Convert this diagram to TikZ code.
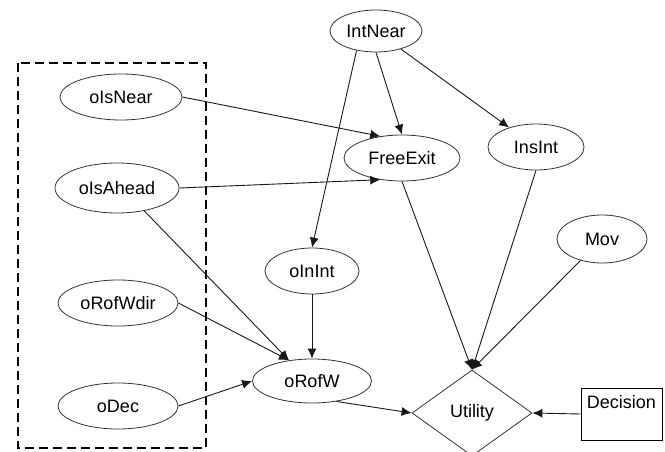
\documentclass[tikz,border=0pt]{standalone}
\usepackage{fontspec}
\setmainfont{Liberation Sans}
\usetikzlibrary{shapes.geometric,arrows.meta}
\tikzset{
  ell/.style={draw=black!80, line width=0.8pt, ellipse, inner sep=0pt, font=\fontsize{18}{20}\selectfont},
  dia/.style={draw=black!80, line width=0.8pt, diamond, inner sep=0pt, font=\fontsize{18}{20}\selectfont},
  box/.style={draw=black, line width=0.9pt, rectangle, font=\fontsize{18}{20}\selectfont},
  edge/.style={draw=black!90, line width=0.9pt, -{Latex[length=10pt,width=9pt]}},
  grp/.style={draw=black, line width=2.4pt, dash pattern=on 9pt off 5pt}
}
\begin{document}
\begin{tikzpicture}[x=1pt,y=-1pt]
\useasboundingbox (0,0) rectangle (665,452);
\fill[white] (0,0) rectangle (665,452);
\draw[grp] (18,63) rectangle (206,448);
\node[ell, minimum width=92pt, minimum height=42pt] (in) at (376,31) {IntNear};
\node[ell, minimum width=116pt, minimum height=46pt] (fe) at (402,158) {FreeExit};
\node[ell, minimum width=96pt, minimum height=46pt] (ins) at (536,147) {InsInt};
\node[ell, minimum width=122pt, minimum height=46pt] (isn) at (121,97) {oIsNear};
\node[ell, minimum width=124pt, minimum height=50pt] (isa) at (117,188) {oIsAhead};
\node[ell, minimum width=120pt, minimum height=46pt] (rwd) at (118,303) {oRofWdir};
\node[ell, minimum width=120pt, minimum height=46pt] (dec) at (118,406) {oDec};
\node[ell, minimum width=94pt, minimum height=46pt] (inint) at (312,271) {oInInt};
\node[ell, minimum width=119pt, minimum height=44pt] (rw) at (312,381) {oRofW};
\node[ell, minimum width=90pt, minimum height=48pt] (mov) at (602,239) {Mov};
\node[dia, minimum width=120pt, minimum height=86pt, aspect=1.4] (u) at (472,413) {Utility};
\node[box, minimum width=81pt, minimum height=52pt, inner ysep=4pt, text height=16pt, text depth=28pt] (d) at (621.5,414) {Decision};
\draw[edge] (in.south) -- (fe.north);
\draw[edge] (in) -- (ins);
\draw[edge] (in.225) -- (inint.north);
\draw[edge] (isn.east) -- (fe.135);
\draw[edge] (isa.east) -- (fe.-135);
\draw[edge] (isa.-40) -- (rw.138);
\draw[edge] (rwd.east) -- (rw.138);
\draw[edge] (dec.east) -- (rw.west);
\draw[edge] (inint.south) -- (rw.north);
\draw[edge] (rw.-40) -- (u.west);
\draw[edge] (fe.south) -- (u.north);
\draw[edge] (ins.south) -- (u.north);
\draw[edge] (mov.-135) -- (u.north);
\draw[edge] (d.west) -- (u.east);
\end{tikzpicture}
\end{document}
